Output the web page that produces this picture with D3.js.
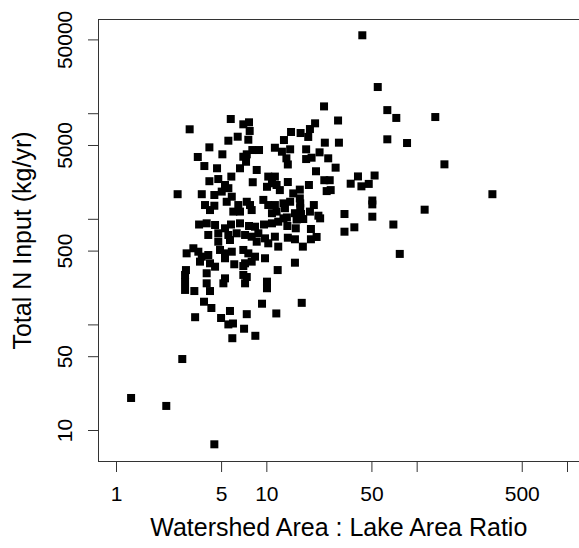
<!DOCTYPE html>
<html>
<head>
<meta charset="utf-8">
<script src="https://cdn.jsdelivr.net/npm/d3@7"></script>
<style>
  body { margin: 0; background: #fff; }
  svg text { font-family: "Liberation Sans", Arial, Helvetica, sans-serif; fill: #000; }
</style>
</head>
<body>
<svg id="chart" width="579" height="548"></svg>
<script>
// watershed area : lake area ratio (x) and total N input in kg/yr (y)
let ratio = [
  43.5, 55.1, 63.8, 73.2, 133, 30.0, 63.8, 86.3, 30.4, 153,
  40.7, 52.5, 36.4, 42.9, 48.0, 319, 50.7, 50.7, 113, 33.1,
  50.7, 70.0, 38.5, 33.1, 77.2, 24.2, 21.1, 19.5, 16.9, 14.6,
  19.0, 13.1, 14.4, 18.4, 24.5, 22.6, 25.8, 18.4, 20.0, 13.6,
  28.9, 21.4, 13.9, 24.3, 26.4, 25.2, 26.8, 19.2, 13.9, 16.7,
  15.1, 16.7, 16.8, 16.8, 20.7, 15.5, 17.0, 19.5, 22.2, 13.3,
  13.7, 15.9, 17.6, 22.8, 15.7, 19.8, 13.9, 15.5, 19.8, 21.6,
  17.5, 15.5, 17.2, 3.85, 4.31, 3.36, 5.00, 5.73, 7.41, 9.36,
  11.65, 5.59, 6.00, 7.11, 8.45, 5.94, 2.76, 1.26, 2.16, 4.51,
  5.80, 3.09, 7.03, 7.67, 7.75, 5.59, 6.45, 7.59, 4.18, 3.50,
  5.10, 8.07, 8.94, 7.03, 7.41, 3.87, 4.70, 6.68, 7.33, 8.63,
  11.4, 12.7, 5.85, 4.79, 4.18, 8.12, 5.31, 5.59, 10.3, 11.4,
  10.9, 11.7, 10.1, 12.3, 2.57, 3.72, 4.51, 5.05, 5.89, 5.45,
  3.91, 4.22, 4.51, 6.51, 7.41, 7.79, 7.99, 6.03, 6.68, 9.55,
  10.3, 11.4, 11.7, 10.9, 13.0, 14.4, 13.0, 3.57, 4.01, 4.56,
  5.31, 5.82, 6.68, 7.67, 8.41, 9.65, 10.9, 12.0, 13.8, 4.11,
  4.79, 5.59, 6.35, 7.22, 7.99, 8.85, 9.80, 11.4, 4.79, 5.73,
  8.63, 10.3, 12.0, 2.95, 3.27, 3.53, 3.72, 4.11, 3.62, 4.92,
  5.31, 5.89, 5.31, 7.03, 7.59, 8.41, 7.99, 7.22, 9.80, 4.22,
  4.56, 6.12, 7.03, 11.9, 2.92, 2.88, 4.01, 4.01, 5.31, 5.18,
  7.03, 7.41, 7.22, 10.1, 10.1, 2.88, 2.88, 3.32, 4.22
];
let nInput = [
  54700, 17700, 10700, 9020, 9200, 8530, 5660, 5220, 5260, 3280,
  2520, 2570, 2150, 2030, 2140, 1710, 1490, 1370, 1220, 1110,
  1047, 883, 831, 755, 465, 11600, 8020, 7080, 6490, 6640,
  5960, 5570, 4550, 4550, 5260, 4260, 3740, 3680, 3790, 3740,
  3050, 2820, 3270, 2320, 2320, 1830, 1870, 2090, 2230, 1890,
  1740, 1560, 1400, 1260, 1350, 1130, 1110, 1170, 1070, 1260,
  1030, 985, 995, 1010, 813, 801, 662, 640, 640, 673,
  545, 384, 160, 164, 143, 117, 115, 134, 125, 157,
  127, 100, 102, 91, 78, 74, 47, 20.1, 16.9, 7.32,
  8810, 7040, 7850, 8200, 6790, 5490, 5990, 5610, 4750, 3850,
  4080, 4480, 4480, 3870, 4080, 3160, 3010, 3010, 3470, 2900,
  4710, 4320, 2510, 2380, 2270, 2220, 2090, 1950, 2510, 2510,
  2170, 2090, 2010, 1870, 1710, 1710, 1680, 1810, 1620, 1450,
  1350, 1210, 1330, 1350, 1450, 1350, 1210, 1170, 1170, 1510,
  1350, 1350, 1170, 1130, 1400, 1450, 1010, 883, 906, 874,
  813, 883, 906, 855, 842, 883, 906, 939, 855, 703,
  729, 703, 729, 703, 677, 729, 653, 677, 607, 630,
  607, 586, 545, 471, 526, 488, 438, 454, 393, 507,
  471, 488, 423, 507, 471, 438, 393, 379, 423, 379,
  352, 371, 357, 327, 327, 294, 305, 245, 273, 245,
  294, 281, 245, 254, 220, 252, 212, 207, 207
];

let xTicks = [1, 5, 10, 50, 100, 500, 1000];
let xTickLabels = ["1", "5", "10", "50", "", "500", ""];
let yTicks = [10, 50, 100, 500, 1000, 5000, 10000, 50000];
let yTickLabels = ["10", "50", "", "500", "", "5000", "", "50000"];

let xTitle = "Watershed Area : Lake Area Ratio";
let yTitle = "Total N Input (kg/yr)";

let data = ratio.map((r, i) => ({ratio: r, n: nInput[i]}));

let svg = d3.select("#chart");

// plot box (right side runs off the picture like in the original)
let box = {left: 98.5, top: 19.5, right: 580, bottom: 461.5};

let x = d3.scaleLog()
    .domain([1, 1000])
    .range([116, 567]);

let y = d3.scaleLog()
    .domain([10, 50000])
    .range([430, 39.4]);

svg.append("rect")
    .attr("x", box.left)
    .attr("y", box.top)
    .attr("width", box.right - box.left)
    .attr("height", box.bottom - box.top)
    .attr("fill", "none")
    .attr("stroke", "#333")
    .attr("stroke-width", 1);

// x axis
let xAxis = svg.append("g")
    .attr("transform", `translate(0, ${box.bottom})`)
    .call(d3.axisBottom(x)
        .tickValues(xTicks)
        .tickFormat((d, i) => xTickLabels[i])
        .tickSize(10.5)
        .tickPadding(14));
xAxis.select(".domain").remove();
xAxis.selectAll("line").attr("stroke", "#333");
xAxis.selectAll("text")
    .style("font-size", "21px")
    .attr("fill", "#000");

// y axis, labels turned sideways as R does
let yAxis = svg.append("g")
    .attr("transform", `translate(${box.left}, 0)`)
    .call(d3.axisLeft(y)
        .tickValues(yTicks)
        .tickFormat((d, i) => yTickLabels[i])
        .tickSize(10.5));
yAxis.select(".domain").remove();
yAxis.selectAll("line").attr("stroke", "#333");
yAxis.selectAll("text")
    .attr("x", null).attr("dy", null)
    .attr("transform", "translate(-26.5, 0) rotate(-90)")
    .style("text-anchor", "middle")
    .style("font-size", "21px")
    .attr("fill", "#000");

// points
svg.append("g")
    .selectAll("rect")
    .data(data)
    .enter().append("rect")
    .attr("x", d => x(d.ratio) - 4)
    .attr("y", d => y(d.n) - 4)
    .attr("width", 8)
    .attr("height", 8)
    .attr("fill", "#000");

// titles
svg.append("text")
    .attr("transform", `translate(${(box.left + 579) / 2}, 536)`)
    .style("text-anchor", "middle")
    .style("font-size", "25px")
    .text(xTitle);

svg.append("text")
    .attr("transform", `translate(31, ${(box.top + box.bottom) / 2}) rotate(-90)`)
    .style("text-anchor", "middle")
    .style("font-size", "25px")
    .text(yTitle);
</script>
</body>
</html>
